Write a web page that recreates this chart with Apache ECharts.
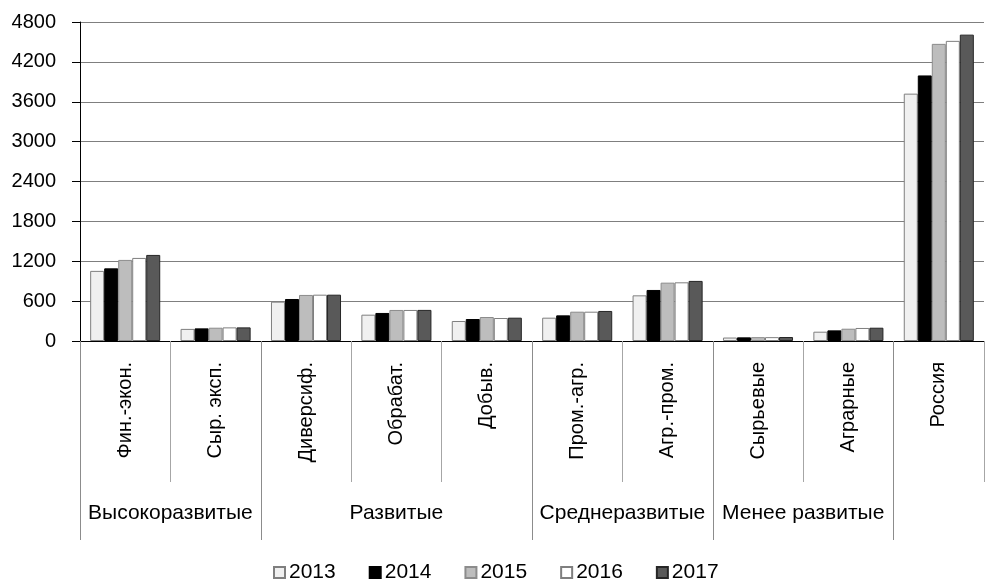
<!DOCTYPE html>
<html>
<head>
<meta charset="utf-8">
<script src="https://cdn.jsdelivr.net/npm/echarts@6/dist/echarts.min.js"></script>
<style>
html,body{margin:0;padding:0;background:#fff;}
#chart{width:987px;height:581px;}
</style>
</head>
<body>
<div id="chart"></div>
<script>
var categories = ['Фин.-экон.', 'Сыр. эксп.', 'Диверсиф.', 'Обрабат.', 'Добыв.', 'Пром.-агр.', 'Агр.-пром.', 'Сырьевые', 'Аграрные', 'Россия'];
var groupLabels = ['', '', 'Высокоразвитые', '', '', '', '', 'Развитые', '', '', '', '', 'Среднеразвитые', '', '', '', 'Менее развитые', '', '', '', ''];
var groupBoundaryIdx = [0, 4, 10, 14, 18];
var years = ['2013', '2014', '2015', '2016', '2017'];
var v2013 = [1055, 182, 592, 396, 301, 351, 687, 52, 140, 3722];
var v2014 = [1093, 190, 632, 422, 331, 386, 768, 55, 160, 3996];
var v2015 = [1220, 200, 693, 467, 361, 441, 878, 58, 185, 4471];
var v2016 = [1250, 205, 697, 467, 346, 441, 883, 58, 196, 4516];
var v2017 = [1295, 205, 697, 468, 351, 452, 904, 60, 200, 4610];
var yTicks = {min: 0, max: 4800, interval: 600};

var seriesData = [v2013, v2014, v2015, v2016, v2017];
var colors = ['#f0f0f0', '#000000', '#bdbdbd', '#ffffff', '#595959'];
var borders = ['#7f7f7f', '#000000', '#8c8c8c', '#7f7f7f', '#262626'];

var chart = echarts.init(document.getElementById('chart'));
var font = 'Liberation Sans, Arial, sans-serif';
chart.setOption({
  animation: false,
  backgroundColor: '#fff',
  grid: {left: 80, top: 22, height: 319, right: -9, containLabel: false},
  legend: {
    data: years, left: 268, top: 557,
    itemWidth: 11, itemHeight: 11, itemGap: 33,
    textStyle: {fontFamily: font, fontSize: 21, color: '#000', padding: [0, 0, 0, -1]},
    icon: 'rect'
  },
  xAxis: [{
    type: 'category', data: categories, position: 'bottom',
    axisLine: {lineStyle: {color: '#000', width: 1}},
    axisTick: {show: true, interval: 0, length: 141, lineStyle: {color: '#a6a6a6'}},
    axisLabel: {interval: 0, rotate: 90, margin: 21, fontFamily: font, fontSize: 20, color: '#000'}
  }, {
    type: 'category', data: groupLabels, position: 'bottom', boundaryGap: false,
    axisLine: {show: false},
    axisTick: {show: true, length: 199, interval: function (i) { return groupBoundaryIdx.indexOf(i) >= 0; }, lineStyle: {color: '#8c8c8c'}},
    axisLabel: {interval: 0, margin: 162, fontFamily: font, fontSize: 21, color: '#000'}
  }],
  yAxis: {
    type: 'value', min: yTicks.min, max: yTicks.max, interval: yTicks.interval,
    axisLine: {show: true, lineStyle: {color: '#000'}},
    axisTick: {show: true, length: 8, lineStyle: {color: '#000'}},
    axisLabel: {margin: 24, fontFamily: font, fontSize: 20, color: '#000', formatter: function (v) { return String(v); }},
    splitLine: {lineStyle: {color: '#7f7f7f', width: 1}}
  },
  series: years.map(function (y, i) {
    return {
      name: y, type: 'bar', xAxisIndex: 0, data: seriesData[i],
      barGap: '0%', barCategoryGap: '22.5%',
      itemStyle: {color: colors[i], borderColor: borders[i], borderWidth: 1}
    };
  })
});
</script>
</body>
</html>
